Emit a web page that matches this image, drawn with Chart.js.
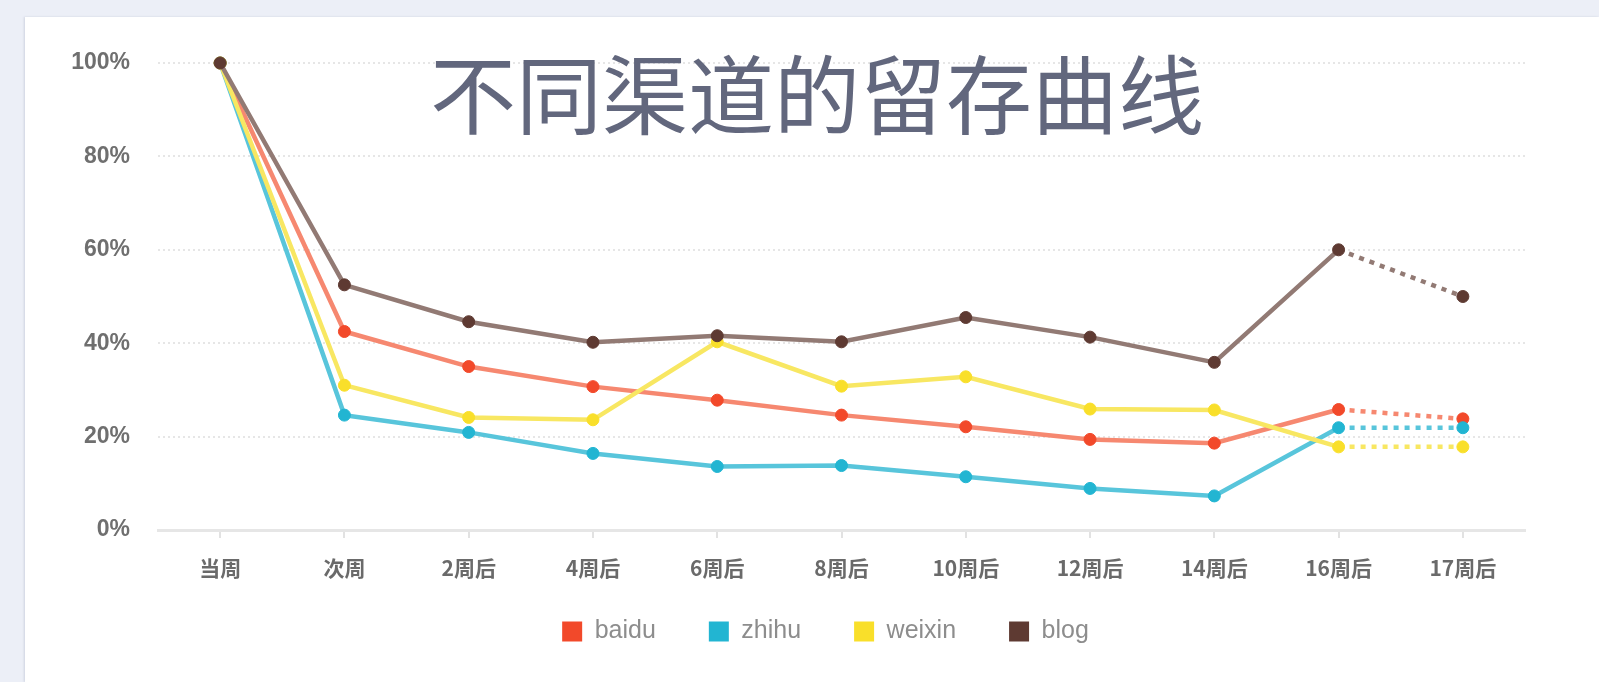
<!DOCTYPE html>
<html>
<head>
<meta charset="utf-8">
<script src="https://cdn.jsdelivr.net/npm/chart.js@4.4.1/dist/chart.umd.min.js"></script>
<style>
  html, body { margin: 0; padding: 0; width: 1599px; height: 682px; overflow: hidden; background: #ECEFF7; }
  #card { position: absolute; left: 25px; top: 17px; right: 0; bottom: 0; background: #ffffff; box-shadow: -1px 0 2px rgba(120,130,160,0.25); }
  #c { position: absolute; left: 0; top: 0; }
  #title { position: absolute; left: 817px; top: 48px; transform: translateX(-50%); white-space: nowrap;
           font-family: "Noto Sans CJK SC", sans-serif; font-size: 86px; line-height: 86px; color: #62677d; }
</style>
</head>
<body>
<div id="card"></div>
<canvas id="c" width="1599" height="682"></canvas>
<div id="title">不同渠道的留存曲线</div>
<script>
const categories = ['当周', '次周', '2周后', '4周后', '6周后', '8周后', '10周后', '12周后', '14周后', '16周后', '17周后'];
const baidu  = [100, 42.5, 35.0, 30.7, 27.8, 24.6, 22.1, 19.4, 18.6, 25.8, 23.8];
const zhihu  = [100, 24.6, 20.9, 16.4, 13.6, 13.8, 11.4, 8.9, 7.3, 21.9, 21.9];
const weixin = [100, 31.0, 24.1, 23.6, 40.3, 30.8, 32.8, 25.9, 25.7, 17.8, 17.8];
const blog   = [100, 52.5, 44.6, 40.2, 41.6, 40.3, 45.5, 41.3, 35.9, 60.0, 50.0];
const seriesNames = ['baidu', 'zhihu', 'weixin', 'blog'];
const yTickValues = [0, 20, 40, 60, 80, 100];
const dashedFromIndex = 9;

const pointColors = ['#F2492A', '#22B5D2', '#F9DF2A', '#5E3A32'];
const lineColors  = ['#F68870', '#58C5DB', '#F8E762', '#927A74'];
const drawOrder   = [3, 2, 1, 0];

function makeDataset(i, values) {
  return {
    label: seriesNames[i],
    data: values,
    borderColor: lineColors[i],
    backgroundColor: pointColors[i],
    pointBackgroundColor: pointColors[i],
    pointBorderColor: pointColors[i],
    pointRadius: 6,
    pointBorderWidth: 1,
    borderWidth: 4.5,
    tension: 0,
    clip: false,
    order: drawOrder[i],
    segment: {
      borderDash: ctx => ctx.p0DataIndex >= dashedFromIndex ? [5, 6] : undefined
    }
  };
}

// move the legend box so its row sits where the reference has it
const legendPlace = {
  id: 'legendPlace',
  afterLayout(chart) {
    const lg = chart.legend;
    if (!lg) return;
    const h = lg.height;
    lg.top = 566; lg.bottom = 566 + h;
    lg.left = 52; lg.right = 1599;
  }
};

new Chart(document.getElementById('c'), {
  type: 'line',
  data: {
    labels: categories,
    datasets: [makeDataset(0, baidu), makeDataset(1, zhihu), makeDataset(2, weixin), makeDataset(3, blog)]
  },
  plugins: [legendPlace],
  options: {
    responsive: false,
    devicePixelRatio: 1,
    animation: false,
    layout: { padding: { left: 40, right: 74, top: 63, bottom: 9 } },
    plugins: {
      title: { display: false },
      tooltip: { enabled: false },
      legend: {
        position: 'bottom',
        labels: {
          boxWidth: 20,
          boxHeight: 20,
          padding: 53,
          color: '#8d8d8d',
          font: { family: 'Liberation Sans', size: 25 },
          sort: (a, b) => a.datasetIndex - b.datasetIndex,
          generateLabels: chart => {
            const items = Chart.defaults.plugins.legend.labels.generateLabels(chart);
            items.forEach(it => { it.strokeStyle = it.fillStyle; it.lineWidth = 0; it.lineDash = []; });
            return items;
          }
        }
      }
    },
    scales: {
      x: {
        offset: true,
        grid: { display: true, drawOnChartArea: false, drawTicks: true, tickLength: 8, color: '#e2e2e2', lineWidth: 2 },
        border: { display: true, color: '#e6e6e6', width: 3 },
        ticks: { color: '#6a6a6a', padding: 17, font: { family: 'Noto Sans CJK SC', size: 21, weight: 'bold' } },
        afterFit: s => { s.height = 55; }
      },
      y: {
        min: 0,
        max: 100,
        afterBuildTicks: s => { s.ticks = yTickValues.map(v => ({ value: v })); },
        grid: { color: '#e6e6e6', lineWidth: 2, drawTicks: false },
        border: { display: false, dash: [2, 3] },
        ticks: { color: '#6f6f6f', padding: 28, font: { family: 'Liberation Sans', size: 23, weight: 'bold' },
                 callback: v => v + '%' },
        afterFit: s => { s.width = 118; }
      }
    }
  }
});
</script>
</body>
</html>
